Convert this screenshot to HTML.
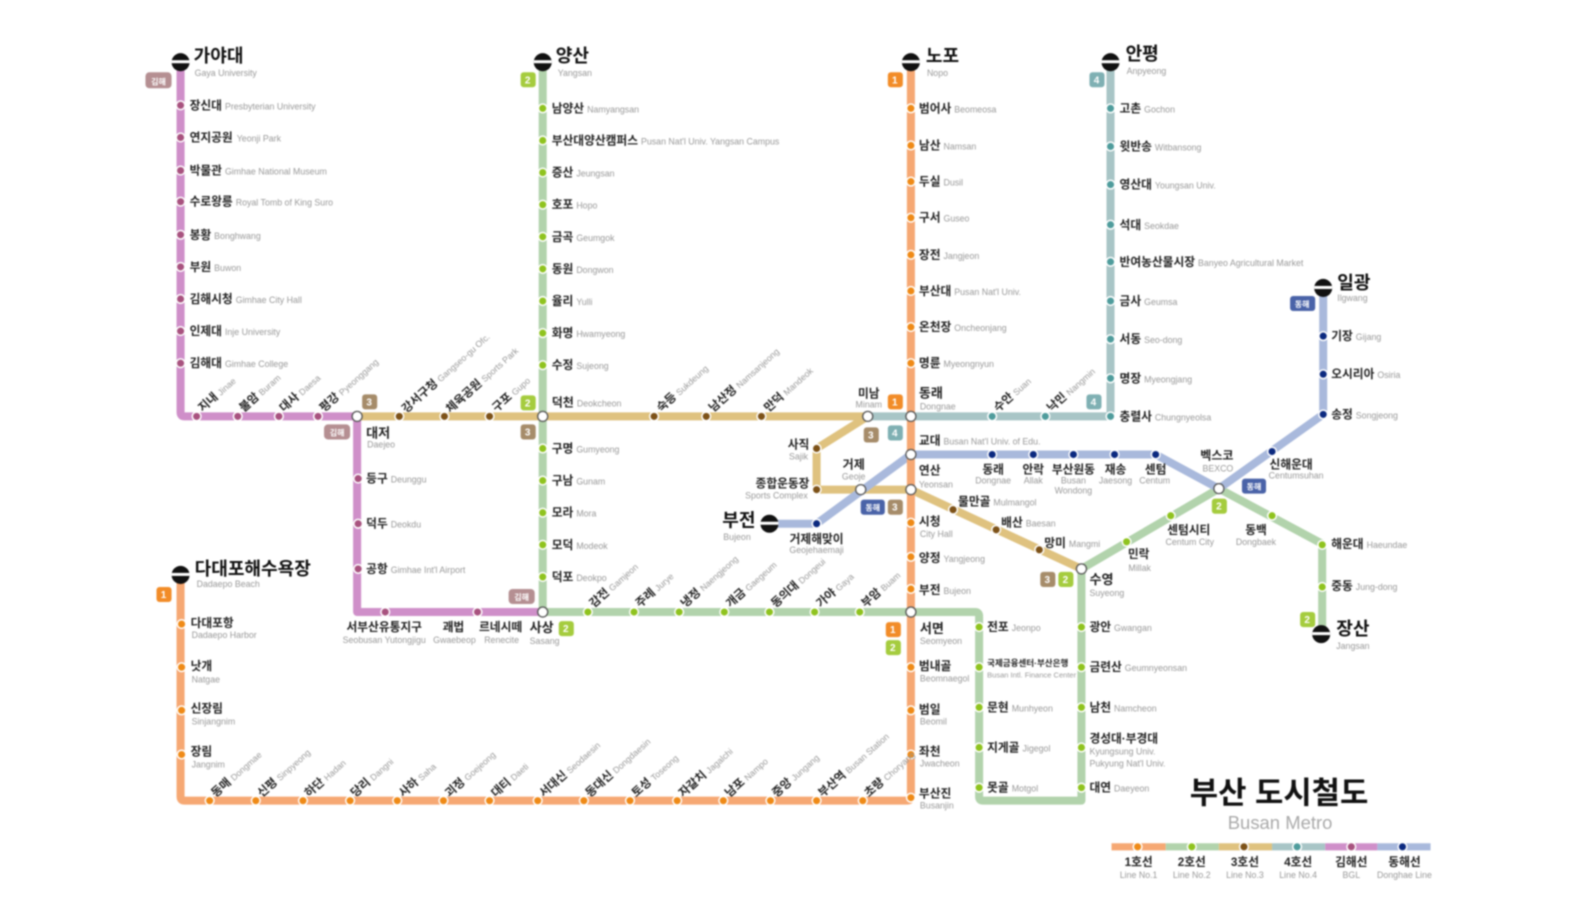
<!DOCTYPE html>
<html><head><meta charset="utf-8"><style>
html,body{margin:0;padding:0;background:#fff;width:1573px;height:900px;overflow:hidden}
svg{display:block;filter:blur(.9px)}
text{font-family:"Liberation Sans","Noto Sans CJK KR",sans-serif}
.k{font-size:11.7px;fill:#222;font-weight:700}
.e{font-size:8.8px;fill:#999;font-weight:400}
.b{font-size:18px;fill:#111;font-weight:700}
.m{text-anchor:middle}
.n{font-size:10px;font-weight:700;fill:#fff;text-anchor:middle}
path{fill:none;stroke-linejoin:round;stroke-width:8}
</style></head><body>
<svg width="1573" height="900" viewBox="0 0 1568 897" preserveAspectRatio="none" xmlns="http://www.w3.org/2000/svg">
<!-- lines -->
<path stroke="#cf8fc9" d="M180 62V411Q180 415 184 415H356V610H541"/>
<path stroke="#b2d3ac" d="M541 62V610H972Q976 610 976 614V794Q976 798 980 798H1078V567L1215 487L1318 542V632"/>
<path stroke="#a8c5c6" d="M1107 62V411Q1107 415 1103 415H865"/>
<path stroke="#dfc27f" d="M356 415H865L814 447V488H908L1078 567"/>
<path stroke="#a9b9dc" d="M767 522H814L908 453H1152L1215 487L1319 413V287"/>
<path stroke="#f6a873" d="M908 62V794Q908 798 904 798H184Q180 798 180 794V572"/>
<!-- stations -->
<g fill="#a8527f" stroke="#fff" stroke-width="1.5">
<circle cx="180" cy="105" r="4.3"/><circle cx="180" cy="137" r="4.3"/><circle cx="180" cy="170" r="4.3"/><circle cx="180" cy="201" r="4.3"/><circle cx="180" cy="234" r="4.3"/><circle cx="180" cy="266" r="4.3"/><circle cx="180" cy="298" r="4.3"/><circle cx="180" cy="330" r="4.3"/><circle cx="180" cy="362" r="4.3"/>
<circle cx="196" cy="415" r="4.3"/><circle cx="237" cy="415" r="4.3"/><circle cx="278" cy="415" r="4.3"/><circle cx="317" cy="415" r="4.3"/>
<circle cx="357" cy="477" r="4.3"/><circle cx="357" cy="522" r="4.3"/><circle cx="357" cy="567" r="4.3"/><circle cx="384" cy="610" r="4.3"/><circle cx="476" cy="610" r="4.3"/>
</g>
<g fill="#7d5218" stroke="#fff" stroke-width="1.5">
<circle cx="398" cy="415" r="4.3"/><circle cx="443" cy="415" r="4.3"/><circle cx="488" cy="415" r="4.3"/><circle cx="652" cy="415" r="4.3"/><circle cx="704" cy="415" r="4.3"/><circle cx="759" cy="415" r="4.3"/>
<circle cx="814" cy="447" r="4.3"/><circle cx="814" cy="488" r="4.3"/><circle cx="950" cy="508" r="4.3"/><circle cx="993" cy="528" r="4.3"/><circle cx="1036" cy="548" r="4.3"/>
</g>
<g fill="#8fc31f" stroke="#fff" stroke-width="1.5">
<circle cx="541" cy="108" r="4.3"/><circle cx="541" cy="140" r="4.3"/><circle cx="541" cy="172" r="4.3"/><circle cx="541" cy="204" r="4.3"/><circle cx="541" cy="236" r="4.3"/><circle cx="541" cy="268" r="4.3"/><circle cx="541" cy="300" r="4.3"/><circle cx="541" cy="332" r="4.3"/><circle cx="541" cy="364" r="4.3"/>
<circle cx="541" cy="447" r="4.3"/><circle cx="541" cy="479" r="4.3"/><circle cx="541" cy="511" r="4.3"/><circle cx="541" cy="543" r="4.3"/><circle cx="541" cy="575" r="4.3"/>
<circle cx="586" cy="610" r="4.3"/><circle cx="632" cy="610" r="4.3"/><circle cx="677" cy="610" r="4.3"/><circle cx="722" cy="610" r="4.3"/><circle cx="767" cy="610" r="4.3"/><circle cx="812" cy="610" r="4.3"/><circle cx="857" cy="610" r="4.3"/>
<circle cx="976" cy="625" r="4.3"/><circle cx="976" cy="665" r="4.3"/><circle cx="976" cy="705" r="4.3"/><circle cx="976" cy="745" r="4.3"/><circle cx="976" cy="785" r="4.3"/>
<circle cx="1078" cy="625" r="4.3"/><circle cx="1078" cy="665" r="4.3"/><circle cx="1078" cy="705" r="4.3"/><circle cx="1078" cy="745" r="4.3"/><circle cx="1078" cy="785" r="4.3"/>
<circle cx="1123" cy="540" r="4.3"/><circle cx="1167" cy="514" r="4.3"/><circle cx="1268" cy="514" r="4.3"/><circle cx="1318" cy="543" r="4.3"/><circle cx="1318" cy="585" r="4.3"/>
</g>
<g fill="#ef8a17" stroke="#fff" stroke-width="1.5">
<circle cx="908" cy="108" r="4.3"/><circle cx="908" cy="145" r="4.3"/><circle cx="908" cy="181" r="4.3"/><circle cx="908" cy="217" r="4.3"/><circle cx="908" cy="254" r="4.3"/><circle cx="908" cy="290" r="4.3"/><circle cx="908" cy="326" r="4.3"/><circle cx="908" cy="362" r="4.3"/>
<circle cx="908" cy="521" r="4.3"/><circle cx="908" cy="555" r="4.3"/><circle cx="908" cy="587" r="4.3"/>
<circle cx="908" cy="665" r="4.3"/><circle cx="908" cy="708" r="4.3"/><circle cx="908" cy="752" r="4.3"/><circle cx="908" cy="795" r="4.3"/>
<circle cx="181" cy="622" r="4.3"/><circle cx="181" cy="665" r="4.3"/><circle cx="181" cy="708" r="4.3"/><circle cx="181" cy="752" r="4.3"/>
<circle cx="209" cy="798" r="4.3"/><circle cx="255" cy="798" r="4.3"/><circle cx="302" cy="798" r="4.3"/><circle cx="349" cy="798" r="4.3"/><circle cx="396" cy="798" r="4.3"/><circle cx="442" cy="798" r="4.3"/><circle cx="488" cy="798" r="4.3"/><circle cx="536" cy="798" r="4.3"/><circle cx="582" cy="798" r="4.3"/><circle cx="628" cy="798" r="4.3"/><circle cx="675" cy="798" r="4.3"/><circle cx="721" cy="798" r="4.3"/><circle cx="768" cy="798" r="4.3"/><circle cx="814" cy="798" r="4.3"/><circle cx="860" cy="798" r="4.3"/>
</g>
<g fill="#4f9c9c" stroke="#fff" stroke-width="1.5">
<circle cx="1107" cy="108" r="4.3"/><circle cx="1107" cy="146" r="4.3"/><circle cx="1107" cy="184" r="4.3"/><circle cx="1107" cy="224" r="4.3"/><circle cx="1107" cy="261" r="4.3"/><circle cx="1107" cy="300" r="4.3"/><circle cx="1107" cy="338" r="4.3"/><circle cx="1107" cy="377" r="4.3"/><circle cx="1107" cy="415" r="4.3"/><circle cx="989" cy="415" r="4.3"/><circle cx="1042" cy="415" r="4.3"/>
</g>
<g fill="#0c2a80" stroke="#fff" stroke-width="1.5">
<circle cx="1319" cy="335" r="4.3"/><circle cx="1319" cy="373" r="4.3"/><circle cx="1319" cy="413" r="4.3"/><circle cx="1268" cy="450" r="4.3"/><circle cx="989" cy="453" r="4.3"/><circle cx="1030" cy="453" r="4.3"/><circle cx="1070" cy="453" r="4.3"/><circle cx="1111" cy="453" r="4.3"/><circle cx="1152" cy="453" r="4.3"/><circle cx="814" cy="522" r="4.3"/>
</g>
<!-- interchanges -->
<g fill="#fff" stroke="#555" stroke-width="1.3">
<circle cx="356" cy="415" r="5"/><circle cx="541" cy="415" r="5"/><circle cx="541" cy="610" r="5"/><circle cx="865" cy="415" r="5"/><circle cx="908" cy="415" r="5"/><circle cx="908" cy="453" r="5"/><circle cx="908" cy="488" r="5"/><circle cx="858" cy="488" r="5"/><circle cx="908" cy="610" r="5"/><circle cx="1078" cy="567" r="5"/><circle cx="1215" cy="487" r="5"/>
</g>
<!-- terminals -->
<g fill="#111">
<circle cx="180" cy="62" r="9"/><circle cx="541" cy="62" r="9"/><circle cx="908" cy="62" r="9"/><circle cx="1107" cy="62" r="9"/><circle cx="1319" cy="287" r="9"/><circle cx="1317" cy="632" r="9"/><circle cx="180" cy="573" r="9"/><circle cx="767" cy="522" r="9"/>
</g>
<g fill="#fff">
<rect x="171" y="60" width="18" height="3"/><rect x="532" y="60" width="18" height="3"/><rect x="899" y="60" width="18" height="3"/><rect x="1098" y="60" width="18" height="3"/><rect x="1310" y="285" width="18" height="3"/><rect x="1308" y="630" width="18" height="3"/><rect x="171" y="571" width="18" height="3"/><rect x="758" y="520" width="18" height="3"/>
</g>
<!-- badges -->
<g fill="#f28c28">
<rect x="885" y="72" width="15" height="15" rx="3"/><rect x="156" y="585" width="15" height="15" rx="3"/><rect x="885" y="393" width="15" height="15" rx="3"/><rect x="883" y="620" width="15" height="15" rx="3"/>
</g>
<g fill="#a5cc3e">
<rect x="519" y="72" width="15" height="15" rx="3"/><rect x="519" y="394" width="15" height="15" rx="3"/><rect x="557" y="619" width="15" height="15" rx="3"/><rect x="883" y="638" width="15" height="15" rx="3"/><rect x="1208" y="497" width="15" height="15" rx="3"/><rect x="1296" y="610" width="15" height="15" rx="3"/><rect x="1055" y="570" width="15" height="15" rx="3"/>
</g>
<g fill="#a68c6a">
<rect x="361" y="393" width="15" height="15" rx="3"/><rect x="519" y="423" width="15" height="15" rx="3"/><rect x="861" y="426" width="15" height="15" rx="3"/><rect x="885" y="498" width="15" height="15" rx="3"/><rect x="1037" y="570" width="15" height="15" rx="3"/>
</g>
<g fill="#7fb0b3">
<rect x="1086" y="72" width="15" height="15" rx="3"/><rect x="1083" y="393" width="15" height="15" rx="3"/><rect x="885" y="424" width="15" height="15" rx="3"/>
</g>
<g fill="#4a63a8">
<rect x="1286" y="295" width="25" height="15" rx="3"/><rect x="858" y="498" width="24" height="15" rx="3"/><rect x="1238" y="477" width="24" height="15" rx="3"/>
</g>
<g fill="#b58f92">
<rect x="145" y="72" width="26" height="16" rx="4"/><rect x="323" y="423" width="26" height="15" rx="4"/><rect x="507" y="587" width="26" height="15" rx="4"/>
</g>
<g>
<text class="n" x="892" y="83">1</text><text class="n" x="163" y="596">1</text><text class="n" x="892" y="404">1</text><text class="n" x="890" y="631">1</text>
<text class="n" x="526" y="83">2</text><text class="n" x="526" y="405">2</text><text class="n" x="564" y="630">2</text><text class="n" x="890" y="649">2</text><text class="n" x="1215" y="508">2</text><text class="n" x="1303" y="621">2</text><text class="n" x="1062" y="581">2</text>
<text class="n" x="368" y="404">3</text><text class="n" x="526" y="434">3</text><text class="n" x="868" y="437">3</text><text class="n" x="892" y="509">3</text><text class="n" x="1044" y="581">3</text>
<text class="n" x="1093" y="83">4</text><text class="n" x="1090" y="404">4</text><text class="n" x="892" y="435">4</text>
<text class="n" x="1298" y="306" style="font-size:8px">동해</text><text class="n" x="870" y="509" style="font-size:8px">동해</text><text class="n" x="1250" y="488" style="font-size:8px">동해</text>
<text class="n" x="158" y="84" style="font-size:8px">김해</text><text class="n" x="336" y="434" style="font-size:8px">김해</text><text class="n" x="520" y="598" style="font-size:8px">김해</text>
</g>
<!-- terminal labels -->
<text class="b" x="193" y="62">가야대</text><text class="e" x="194" y="76">Gaya University</text>
<text class="b" x="554" y="62">양산</text><text class="e" x="556" y="76">Yangsan</text>
<text class="b" x="923" y="62">노포</text><text class="e" x="924" y="76">Nopo</text>
<text class="b" x="1122" y="60">안평</text><text class="e" x="1123" y="74">Anpyeong</text>
<text class="b" x="1333" y="288">일광</text><text class="e" x="1333" y="300">Ilgwang</text>
<text class="b" x="1332" y="633">장산</text><text class="e" x="1332" y="647">Jangsan</text>
<text class="b" x="194" y="573">다대포해수욕장</text><text class="e" x="196" y="585">Dadaepo Beach</text>
<text class="b" x="720" y="525">부전</text><text class="e" x="721" y="538">Bujeon</text>
<!-- purple vertical -->
<text class="k" x="189" y="109">장신대<tspan class="e" dx="3">Presbyterian University</tspan></text>
<text class="k" x="189" y="141">연지공원<tspan class="e" dx="4">Yeonji Park</tspan></text>
<text class="k" x="189" y="174">박물관<tspan class="e" dx="3">Gimhae National Museum</tspan></text>
<text class="k" x="189" y="205">수로왕릉<tspan class="e" dx="3">Royal Tomb of King Suro</tspan></text>
<text class="k" x="189" y="238">봉황<tspan class="e" dx="3">Bonghwang</tspan></text>
<text class="k" x="189" y="270">부원<tspan class="e" dx="3">Buwon</tspan></text>
<text class="k" x="189" y="302">김해시청<tspan class="e" dx="3">Gimhae City Hall</tspan></text>
<text class="k" x="189" y="334">인제대<tspan class="e" dx="3">Inje University</tspan></text>
<text class="k" x="189" y="366">김해대<tspan class="e" dx="3">Gimhae College</tspan></text>
<!-- rotated top row -->
<text class="k" transform="translate(202 411) rotate(-42)">지내<tspan class="e" dx="3">Jinae</tspan></text>
<text class="k" transform="translate(243 411) rotate(-42)">불암<tspan class="e" dx="3">Buram</tspan></text>
<text class="k" transform="translate(283 411) rotate(-42)">대사<tspan class="e" dx="3">Daesa</tspan></text>
<text class="k" transform="translate(323 411) rotate(-42)">평강<tspan class="e" dx="3">Pyeonggang</tspan></text>
<text class="k" transform="translate(405 412) rotate(-42)">강서구청<tspan class="e" dx="3">Gangseo-gu Ofc.</tspan></text>
<text class="k" transform="translate(449 412) rotate(-42)">체육공원<tspan class="e" dx="3">Sports Park</tspan></text>
<text class="k" transform="translate(495 411) rotate(-42)">구포<tspan class="e" dx="3">Gupo</tspan></text>
<text class="k" transform="translate(659 411) rotate(-42)">숙등<tspan class="e" dx="3">Sukdeung</tspan></text>
<text class="k" transform="translate(711 411) rotate(-42)">남산정<tspan class="e" dx="3">Namsanjeong</tspan></text>
<text class="k" transform="translate(766 411) rotate(-42)">만덕<tspan class="e" dx="3">Mandeok</tspan></text>
<text class="k" transform="translate(995 411) rotate(-42)">수안<tspan class="e" dx="3">Suan</tspan></text>
<text class="k" transform="translate(1048 411) rotate(-42)">낙민<tspan class="e" dx="3">Nangmin</tspan></text>
<!-- interchange labels -->
<text class="k" x="365" y="436" style="font-size:13px">대저</text><text class="e" x="366" y="446">Daejeo</text>
<text class="k" x="365" y="481">등구<tspan class="e" dx="3">Deunggu</tspan></text>
<text class="k" x="365" y="526">덕두<tspan class="e" dx="3">Deokdu</tspan></text>
<text class="k" x="365" y="571">공항<tspan class="e" dx="3">Gimhae Int'l Airport</tspan></text>
<text class="k m" x="383" y="629">서부산유통지구</text><text class="e m" x="383" y="641">Seobusan Yutongjigu</text>
<text class="k m" x="452" y="629">괘법</text><text class="e m" x="453" y="641">Gwaebeop</text>
<text class="k m" x="499" y="629">르네시떼</text><text class="e m" x="500" y="641">Renecite</text>
<text class="k" x="528" y="630" style="font-size:13px">사상</text><text class="e" x="528" y="642">Sasang</text>
<!-- line 2 vertical -->
<text class="k" x="550" y="112">남양산<tspan class="e" dx="3">Namyangsan</tspan></text>
<text class="k" x="550" y="144">부산대양산캠퍼스<tspan class="e" dx="3">Pusan Nat'l Univ. Yangsan Campus</tspan></text>
<text class="k" x="550" y="176">증산<tspan class="e" dx="3">Jeungsan</tspan></text>
<text class="k" x="550" y="208">호포<tspan class="e" dx="3">Hopo</tspan></text>
<text class="k" x="550" y="240">금곡<tspan class="e" dx="3">Geumgok</tspan></text>
<text class="k" x="550" y="272">동원<tspan class="e" dx="3">Dongwon</tspan></text>
<text class="k" x="550" y="304">율리<tspan class="e" dx="3">Yulli</tspan></text>
<text class="k" x="550" y="336">화명<tspan class="e" dx="3">Hwamyeong</tspan></text>
<text class="k" x="550" y="368">수정<tspan class="e" dx="3">Sujeong</tspan></text>
<text class="k" x="550" y="405" style="font-size:12px">덕천<tspan class="e" dx="3">Deokcheon</tspan></text>
<text class="k" x="550" y="451">구명<tspan class="e" dx="3">Gumyeong</tspan></text>
<text class="k" x="550" y="483">구남<tspan class="e" dx="3">Gunam</tspan></text>
<text class="k" x="550" y="515">모라<tspan class="e" dx="3">Mora</tspan></text>
<text class="k" x="550" y="547">모덕<tspan class="e" dx="3">Modeok</tspan></text>
<text class="k" x="550" y="579">덕포<tspan class="e" dx="3">Deokpo</tspan></text>
<!-- line 2 rotated -->
<text class="k" transform="translate(592 606) rotate(-42)">감전<tspan class="e" dx="3">Gamjeon</tspan></text>
<text class="k" transform="translate(638 606) rotate(-42)">주례<tspan class="e" dx="3">Jurye</tspan></text>
<text class="k" transform="translate(683 606) rotate(-42)">냉정<tspan class="e" dx="3">Naengjeong</tspan></text>
<text class="k" transform="translate(728 606) rotate(-42)">개금<tspan class="e" dx="3">Gaegeum</tspan></text>
<text class="k" transform="translate(773 606) rotate(-42)">동의대<tspan class="e" dx="3">Dongeui</tspan></text>
<text class="k" transform="translate(818 606) rotate(-42)">가야<tspan class="e" dx="3">Gaya</tspan></text>
<text class="k" transform="translate(863 606) rotate(-42)">부암<tspan class="e" dx="3">Buam</tspan></text>
<!-- orange bottom rotated -->
<text class="k" transform="translate(215 795) rotate(-42)">동매<tspan class="e" dx="3">Dongmae</tspan></text>
<text class="k" transform="translate(261 795) rotate(-42)">신평<tspan class="e" dx="3">Sinpyeong</tspan></text>
<text class="k" transform="translate(308 795) rotate(-42)">하단<tspan class="e" dx="3">Hadan</tspan></text>
<text class="k" transform="translate(354 795) rotate(-42)">당리<tspan class="e" dx="3">Dangni</tspan></text>
<text class="k" transform="translate(402 795) rotate(-42)">사하<tspan class="e" dx="3">Saha</tspan></text>
<text class="k" transform="translate(448 795) rotate(-42)">괴정<tspan class="e" dx="3">Goejeong</tspan></text>
<text class="k" transform="translate(494 795) rotate(-42)">대티<tspan class="e" dx="3">Daeti</tspan></text>
<text class="k" transform="translate(542 795) rotate(-42)">서대신<tspan class="e" dx="3">Seodaesin</tspan></text>
<text class="k" transform="translate(588 795) rotate(-42)">동대신<tspan class="e" dx="3">Dongdaesin</tspan></text>
<text class="k" transform="translate(634 795) rotate(-42)">토성<tspan class="e" dx="3">Toseong</tspan></text>
<text class="k" transform="translate(681 795) rotate(-42)">자갈치<tspan class="e" dx="3">Jagalchi</tspan></text>
<text class="k" transform="translate(727 795) rotate(-42)">남포<tspan class="e" dx="3">Nampo</tspan></text>
<text class="k" transform="translate(774 795) rotate(-42)">중앙<tspan class="e" dx="3">Jungang</tspan></text>
<text class="k" transform="translate(820 795) rotate(-42)">부산역<tspan class="e" dx="3">Busan Station</tspan></text>
<text class="k" transform="translate(866 795) rotate(-42)">초량<tspan class="e" dx="3">Choryang</tspan></text>
<!-- orange left -->
<text class="k" x="190" y="625">다대포항</text><text class="e" x="191" y="636">Dadaepo Harbor</text>
<text class="k" x="190" y="668">낫개</text><text class="e" x="191" y="680">Natgae</text>
<text class="k" x="190" y="710">신장림</text><text class="e" x="191" y="722">Sinjangnim</text>
<text class="k" x="190" y="753">장림</text><text class="e" x="191" y="765">Jangnim</text>
<!-- orange vertical -->
<text class="k" x="916" y="112">범어사<tspan class="e" dx="3">Beomeosa</tspan></text>
<text class="k" x="916" y="149">남산<tspan class="e" dx="3">Namsan</tspan></text>
<text class="k" x="916" y="185">두실<tspan class="e" dx="3">Dusil</tspan></text>
<text class="k" x="916" y="221">구서<tspan class="e" dx="3">Guseo</tspan></text>
<text class="k" x="916" y="258">장전<tspan class="e" dx="3">Jangjeon</tspan></text>
<text class="k" x="916" y="294">부산대<tspan class="e" dx="3">Pusan Nat'l Univ.</tspan></text>
<text class="k" x="916" y="330">온천장<tspan class="e" dx="3">Oncheonjang</tspan></text>
<text class="k" x="916" y="366">명륜<tspan class="e" dx="3">Myeongnyun</tspan></text>
<text class="k" x="916" y="396" style="font-size:13px">동래</text><text class="e" x="917" y="408">Dongnae</text>
<text class="k" x="916" y="443">교대<tspan class="e" dx="3">Busan Nat'l Univ. of Edu.</tspan></text>
<text class="k" x="916" y="473">연산</text><text class="e" x="916" y="486">Yeonsan</text>
<text class="k" x="916" y="524">시청</text><text class="e" x="917" y="535">City Hall</text>
<text class="k" x="916" y="560">양정<tspan class="e" dx="3">Yangjeong</tspan></text>
<text class="k" x="916" y="592">부전<tspan class="e" dx="3">Bujeon</tspan></text>
<text class="k" x="917" y="631" style="font-size:13px">서면</text><text class="e" x="917" y="642">Seomyeon</text>
<text class="k" x="916" y="668">범내골</text><text class="e" x="917" y="679">Beomnaegol</text>
<text class="k" x="916" y="711">범일</text><text class="e" x="917" y="722">Beomil</text>
<text class="k" x="916" y="753">좌천</text><text class="e" x="917" y="764">Jwacheon</text>
<text class="k" x="916" y="795">부산진</text><text class="e" x="917" y="806">Busanjin</text>
<!-- teal -->
<text class="k" x="1116" y="112">고촌<tspan class="e" dx="3">Gochon</tspan></text>
<text class="k" x="1116" y="150">윗반송<tspan class="e" dx="3">Witbansong</tspan></text>
<text class="k" x="1116" y="188">영산대<tspan class="e" dx="3">Youngsan Univ.</tspan></text>
<text class="k" x="1116" y="228">석대<tspan class="e" dx="3">Seokdae</tspan></text>
<text class="k" x="1116" y="265">반여농산물시장<tspan class="e" dx="3">Banyeo Agricultural Market</tspan></text>
<text class="k" x="1116" y="304">금사<tspan class="e" dx="3">Geumsa</tspan></text>
<text class="k" x="1116" y="342">서동<tspan class="e" dx="3">Seo-dong</tspan></text>
<text class="k" x="1116" y="381">명장<tspan class="e" dx="3">Myeongjang</tspan></text>
<text class="k" x="1116" y="419">충렬사<tspan class="e" dx="3">Chungnyeolsa</tspan></text>
<!-- gold -->
<text class="k m" x="866" y="396">미남</text><text class="e m" x="866" y="406">Minam</text>
<text class="k m" x="796" y="447">사직</text><text class="e m" x="796" y="458">Sajik</text>
<text class="k m" x="780" y="486">종합운동장</text><text class="e m" x="774" y="497">Sports Complex</text>
<text class="k m" x="851" y="467" style="font-size:12px">거제</text><text class="e m" x="851" y="478">Geoje</text>
<text class="k" x="955" y="504">물만골<tspan class="e" dx="3">Mulmangol</tspan></text>
<text class="k" x="998" y="525">배산<tspan class="e" dx="3">Baesan</tspan></text>
<text class="k" x="1041" y="545">망미<tspan class="e" dx="3">Mangmi</tspan></text>
<!-- blue -->
<text class="k m" x="990" y="472">동래</text><text class="e m" x="990" y="482">Dongnae</text>
<text class="k m" x="1030" y="472">안락</text><text class="e m" x="1030" y="482">Allak</text>
<text class="k m" x="1070" y="472">부산원동</text><text class="e m" x="1070" y="482">Busan</text><text class="e m" x="1070" y="492">Wondong</text>
<text class="k m" x="1112" y="472">재송</text><text class="e m" x="1112" y="482">Jaesong</text>
<text class="k m" x="1152" y="472">센텀</text><text class="e m" x="1151" y="482">Centum</text>
<text class="k m" x="1213" y="458" style="font-size:12px">벡스코</text><text class="e m" x="1214" y="470">BEXCO</text>
<text class="k m" x="1287" y="467">신해운대</text><text class="e m" x="1292" y="477">Centumsuhan</text>
<text class="k m" x="814" y="541">거제해맞이</text><text class="e m" x="814" y="551">Geojehaemaji</text>
<text class="k" x="1327" y="339">기장<tspan class="e" dx="3">Gijang</tspan></text>
<text class="k" x="1327" y="377">오시리아<tspan class="e" dx="3">Osiria</tspan></text>
<text class="k" x="1327" y="417">송정<tspan class="e" dx="3">Songjeong</tspan></text>
<!-- east green -->
<text class="k m" x="1135" y="556">민락</text><text class="e m" x="1136" y="569">Millak</text>
<text class="k m" x="1185" y="532">센텀시티</text><text class="e m" x="1186" y="543">Centum City</text>
<text class="k m" x="1252" y="532">동백</text><text class="e m" x="1252" y="543">Dongbaek</text>
<text class="k" x="1327" y="546">해운대<tspan class="e" dx="3">Haeundae</tspan></text>
<text class="k" x="1327" y="588">중동<tspan class="e" dx="3">Jung-dong</tspan></text>
<text class="k" x="1086" y="582" style="font-size:13px">수영</text><text class="e" x="1086" y="594">Suyeong</text>
<text class="k" x="1086" y="629">광안<tspan class="e" dx="3">Gwangan</tspan></text>
<text class="k" x="1086" y="669">금련산<tspan class="e" dx="3">Geumnyeonsan</tspan></text>
<text class="k" x="1086" y="709">남천<tspan class="e" dx="3">Namcheon</tspan></text>
<text class="k" x="1086" y="740">경성대·부경대</text><text class="e" x="1086" y="752">Kyungsung Univ.</text><text class="e" x="1086" y="764">Pukyung Nat'l Univ.</text>
<text class="k" x="1086" y="789">대연<tspan class="e" dx="3">Daeyeon</tspan></text>
<text class="k" x="984" y="629">전포<tspan class="e" dx="3">Jeonpo</tspan></text>
<text class="k" x="984" y="664" style="font-size:8.5px">국제금융센터·부산은행</text><text class="e" x="984" y="675" style="font-size:7.5px">Busan Intl. Finance Center</text>
<text class="k" x="984" y="709">문현<tspan class="e" dx="3">Munhyeon</tspan></text>
<text class="k" x="984" y="749">지게골<tspan class="e" dx="3">Jigegol</tspan></text>
<text class="k" x="984" y="789">못골<tspan class="e" dx="3">Motgol</tspan></text>
<!-- title -->
<text class="m" x="1275" y="801" style="font-size:30.7px;font-weight:700;fill:#111">부산 도시철도</text>
<text class="m" x="1276" y="826" style="font-size:18.4px;fill:#aaa">Busan Metro</text>
<!-- legend -->
<path d="M1108 844H1162" stroke="#f6a873" style="stroke-width:7"/>
<path d="M1162 844H1215" stroke="#b2d3ac" style="stroke-width:7"/>
<path d="M1215 844H1268" stroke="#dfc27f" style="stroke-width:7"/>
<path d="M1268 844H1321" stroke="#a8c5c6" style="stroke-width:7"/>
<path d="M1321 844H1373" stroke="#cf8fc9" style="stroke-width:7"/>
<path d="M1373 844H1426" stroke="#a9b9dc" style="stroke-width:7"/>
<g stroke="#fff" stroke-width="1.5">
<circle cx="1134" cy="844" r="4.3" fill="#ef8a17"/><circle cx="1188" cy="844" r="4.3" fill="#8fc31f"/><circle cx="1240" cy="844" r="4.3" fill="#7d5218"/><circle cx="1293" cy="844" r="4.3" fill="#4f9c9c"/><circle cx="1347" cy="844" r="4.3" fill="#a8527f"/><circle cx="1398" cy="844" r="4.3" fill="#0c2a80"/>
</g>
<text class="k m" x="1135" y="863">1호선</text><text class="e m" x="1135" y="875">Line No.1</text>
<text class="k m" x="1188" y="863">2호선</text><text class="e m" x="1188" y="875">Line No.2</text>
<text class="k m" x="1241" y="863">3호선</text><text class="e m" x="1241" y="875">Line No.3</text>
<text class="k m" x="1294" y="863">4호선</text><text class="e m" x="1294" y="875">Line No.4</text>
<text class="k m" x="1347" y="863">김해선</text><text class="e m" x="1347" y="875">BGL</text>
<text class="k m" x="1400" y="863">동해선</text><text class="e m" x="1400" y="875">Donghae Line</text>
</svg>
</body></html>
